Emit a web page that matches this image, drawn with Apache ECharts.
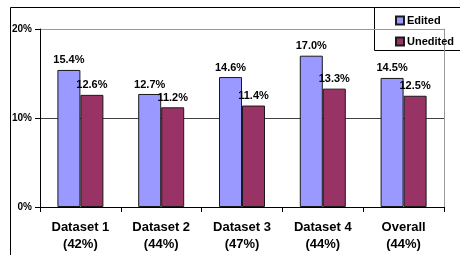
<!DOCTYPE html>
<html>
<head>
<meta charset="utf-8">
<script src="https://cdn.jsdelivr.net/npm/echarts@6/dist/echarts.min.js"></script>
<style>
  html, body { margin: 0; padding: 0; background: #fff; }
  #chart { width: 460px; height: 255px; }
</style>
</head>
<body>
<div id="chart"></div>
<script>
  // categories and values (percent)
  var categories = ['Dataset 1\n(42%)', 'Dataset 2\n(44%)', 'Dataset 3\n(47%)', 'Dataset 4\n(44%)', 'Overall\n(44%)']
  var edited = [15.4, 12.7, 14.6, 17.0, 14.5]
  var unedited = [12.6, 11.2, 11.4, 13.3, 12.5]
  var yTicks = [0, 10, 20]

  var font = 'Arial, "Liberation Sans", sans-serif'

  function barLabel () {
    return {
      show: true,
      position: 'top',
      distance: 4,
      color: '#000',
      fontFamily: font,
      fontWeight: 'bold',
      fontSize: 11,
      formatter: function (p) { return p.value.toFixed(1) + '%' }
    }
  }

  var chart = echarts.init(document.getElementById('chart'), null, { renderer: 'canvas' })
  var option = {
    animation: false,
    backgroundColor: '#fff',
    grid: { left: 40, right: 16, top: 29, bottom: 48, containLabel: false },
    legend: {
      orient: 'vertical',
      left: 390,
      top: 10,
      itemWidth: 8,
      itemHeight: 8,
      itemGap: 10,
      icon: 'rect',
      textStyle: { fontFamily: font, fontWeight: 'bold', fontSize: 11, color: '#000', padding: [0, 0, 0, -2] },
      data: ['Edited', 'Unedited']
    },
    graphic: [
      // outer chart border, runs past the right and bottom edges
      {
        type: 'rect', silent: true, z: -1,
        shape: { x: 10.5, y: 7.5, width: 500, height: 300 },
        style: { fill: 'none', stroke: '#000', lineWidth: 1 }
      },
      // legend box
      {
        type: 'rect', silent: true, z: 0,
        shape: { x: 374.5, y: 7.5, width: 120, height: 43 },
        style: { fill: '#fff', stroke: '#000', lineWidth: 1 }
      }
    ],
    xAxis: {
      type: 'category',
      data: categories,
      axisLine: { lineStyle: { color: '#000', width: 1 } },
      axisTick: { show: true, length: 5, lineStyle: { color: '#000' } },
      axisLabel: {
        color: '#000', fontFamily: font, fontWeight: 'bold', fontSize: 13,
        lineHeight: 17, margin: 12
      }
    },
    yAxis: [
      {
        type: 'value',
        min: yTicks[0],
        max: yTicks[yTicks.length - 1],
        interval: 10,
        axisLine: { show: true, lineStyle: { color: '#000' } },
        axisTick: { show: true, length: 5, lineStyle: { color: '#000' } },
        axisLabel: {
          color: '#000', fontFamily: font, fontWeight: 'bold', fontSize: 10, margin: 8,
          formatter: '{value}%'
        },
        splitLine: { show: true, lineStyle: { color: ['#000', '#404040', '#999'], width: 1 } }
      },
      {
        type: 'value',
        position: 'right',
        min: yTicks[0],
        max: yTicks[yTicks.length - 1],
        interval: 10,
        axisLine: { show: true, lineStyle: { color: '#999' } },
        axisTick: { show: false },
        axisLabel: { show: false },
        splitLine: { show: false }
      }
    ],
    series: [
      {
        name: 'Edited',
        type: 'bar',
        data: edited,
        barWidth: 23,
        barGap: '0%',
        itemStyle: { color: '#9999FF', borderColor: '#1a1a1a', borderWidth: 1 },
        label: barLabel()
      },
      {
        name: 'Unedited',
        type: 'bar',
        data: unedited,
        barWidth: 23,
        itemStyle: { color: '#993366', borderColor: '#1a1a1a', borderWidth: 1 },
        label: barLabel()
      }
    ]
  }
  chart.setOption(option)
</script>
</body>
</html>
